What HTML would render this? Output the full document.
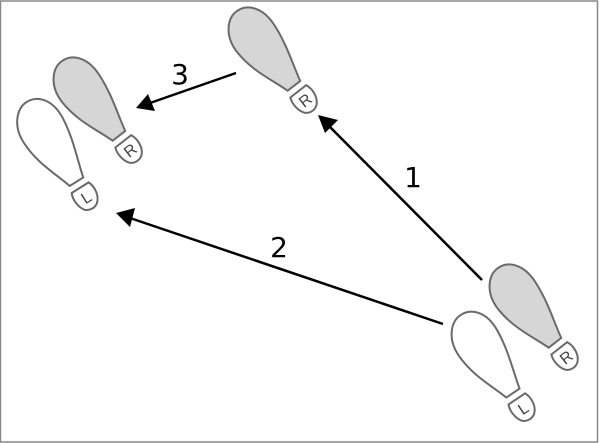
<!DOCTYPE html>
<html><head><style>
html,body{margin:0;padding:0;background:#fff;width:600px;height:443px;overflow:hidden}
</style></head><body>
<svg width="600" height="443" viewBox="0 0 600 443" xmlns="http://www.w3.org/2000/svg">
<defs>
<g id="sole">
<path d="M -8,-18 C -13,-35 -24,-55 -24,-80 C -24,-100 -11,-112 0,-112 C 13,-112 24,-100 22,-78 C 20,-55 12,-35 8,-18 Z" stroke="#6a6a6a" stroke-width="2"/>
<path d="M -10,-11 L 10,-11 C 13,-4 12,6 6,11 C 2,14 -4,14 -8,10 C -12,5 -13,-5 -10,-11 Z" fill="none" stroke="#6a6a6a" stroke-width="2"/>
</g>
</defs>
<rect x="0.5" y="1" width="597" height="441" fill="#fff" stroke="#888" stroke-width="1.5"/>
<g font-family="Liberation Sans, sans-serif" font-size="16" fill="#444" text-anchor="middle">
<g transform="translate(305,100) rotate(-38)"><use href="#sole" fill="#d6d6d6"/><text x="0" y="6">R</text></g>
<g transform="translate(130,150) rotate(-38)"><use href="#sole" fill="#d6d6d6"/><text x="0" y="6">R</text></g>
<g transform="translate(86,197) rotate(-32)"><use href="#sole" fill="#fff"/><text x="0" y="6">L</text></g>
<g transform="translate(566,357) rotate(-38)"><use href="#sole" fill="#d6d6d6"/><text x="0" y="6">R</text></g>
<g transform="translate(523,408) rotate(-34)"><use href="#sole" fill="#fff"/><text x="0" y="6">L</text></g>
</g>
<g stroke="#000" stroke-width="2.5" fill="none">
<line x1="482" y1="280" x2="330" y2="127"/>
<line x1="443" y1="324" x2="130" y2="218"/>
<line x1="236" y1="73" x2="150" y2="103"/>
</g>
<polygon points="318,115 338,120 325,133" fill="#000"/>
<polygon points="116,213 135,208 130,227" fill="#000"/>
<polygon points="136,108 148,94 155,111" fill="#000"/>
<g font-family="DejaVu Sans, sans-serif" font-size="28" fill="#000" text-anchor="middle">
<text x="180" y="84">3</text>
<text x="413" y="187">1</text>
<text x="279" y="257">2</text>
</g>
</svg>
</body></html>
